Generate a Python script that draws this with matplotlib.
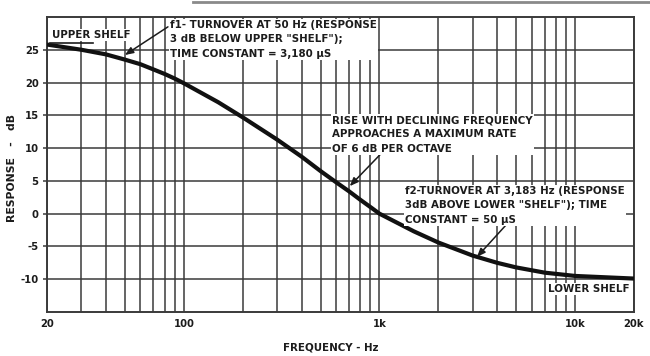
import matplotlib
matplotlib.use("Agg")
import matplotlib.pyplot as plt
from matplotlib.lines import Line2D

# Data
freq = [20, 30, 40, 50, 60, 70, 80, 90, 100, 150, 200, 300, 400, 500, 600, 700, 800, 900,
        1000, 1500, 2000, 3000, 4000, 5000, 7000, 10000, 20000]
resp = [25.8, 25.0, 24.3, 23.5, 22.8, 22.0, 21.3, 20.6, 19.9, 17.0, 14.7, 11.3, 8.7, 6.5, 4.8, 3.4,
        2.1, 1.0, 0.0, -2.7, -4.4, -6.4, -7.5, -8.2, -9.0, -9.5, -9.9]

x_grid = [20, 30, 40, 50, 60, 70, 80, 90, 100, 200, 300, 400, 500, 600, 700, 800, 900,
          1000, 2000, 3000, 4000, 5000, 6000, 7000, 8000, 9000, 10000, 20000]
x_tick_vals = [20, 100, 1000, 10000, 20000]
x_tick_labels = ["20", "100", "1k", "10k", "20k"]
y_ticks = [-10, -5, 0, 5, 10, 15, 20, 25]

ink = "#1c1c1c"
grid_c = "#3a3a3a"
fs = 7.4
fw = "bold"
ls = 1.55

W, H = 650, 356
fig = plt.figure(figsize=(W / 100, H / 100), dpi=100)
fig.patch.set_facecolor("white")

def fx(px):
    return px / W

def fy(py):
    return 1 - py / H

ax = fig.add_axes([fx(47), fy(312), fx(634) - fx(47), fy(17) - fy(312)])
ax.set_xscale("log")
ax.set_xlim(20, 20000)
ax.set_ylim(-15, 30)

for xv in x_grid:
    ax.axvline(xv, color=grid_c, lw=1.1, zorder=1)
for yv in y_ticks:
    ax.axhline(yv, color=grid_c, lw=1.1, zorder=1)

ax.plot(freq, resp, color="#111111", lw=3.0, solid_capstyle="butt", solid_joinstyle="round", zorder=3)

ax.set_xticks(x_tick_vals)
ax.set_xticklabels(x_tick_labels, fontweight=fw)
ax.xaxis.set_minor_locator(matplotlib.ticker.NullLocator())
ax.set_yticks(y_ticks)
ax.set_yticklabels([str(v) for v in y_ticks], fontweight=fw)
ax.tick_params(axis="x", length=0, pad=5, labelsize=7.2, labelcolor=ink)
ax.tick_params(axis="y", length=3, width=1.1, color=grid_c, pad=3, labelsize=7.2, labelcolor=ink)
for sp in ax.spines.values():
    sp.set_color(grid_c)
    sp.set_linewidth(1.4)

fig.text(fx(331), fy(347), "FREQUENCY - Hz", ha="center", va="center", fontsize=fs, color=ink, fontweight=fw)
fig.text(fx(12), fy(168), "RESPONSE   -   dB", ha="center", va="center", rotation=90, fontsize=7.8, color=ink, fontweight=fw)

box = dict(facecolor="white", edgecolor="none", pad=1.0)

fig.text(fx(52), fy(35), "UPPER SHELF", ha="left", va="center", fontsize=fs, color=ink, fontweight=fw, bbox=box, zorder=5)
fig.add_artist(Line2D([fx(50), fx(93)], [fy(43), fy(43)], color=ink, lw=1.2))

fig.text(fx(548), fy(289), "LOWER SHELF", ha="left", va="center", fontsize=fs, color=ink, fontweight=fw, bbox=box, zorder=5)

fig.text(fx(170), fy(20),
         "f1- TURNOVER AT 50 Hz (RESPONSE\n3 dB BELOW UPPER \"SHELF\");\nTIME CONSTANT = 3,180 \u00b5S",
         ha="left", va="top", fontsize=fs, color=ink, fontweight=fw, linespacing=ls, bbox=box, zorder=5)

fig.text(fx(332), fy(115),
         "RISE WITH DECLINING FREQUENCY\nAPPROACHES A MAXIMUM RATE\nOF 6 dB PER OCTAVE",
         ha="left", va="top", fontsize=fs, color=ink, fontweight=fw, linespacing=ls, bbox=box, zorder=5)

fig.text(fx(405), fy(186),
         "f2-TURNOVER AT 3,183 Hz (RESPONSE\n3dB ABOVE LOWER \"SHELF\"); TIME\nCONSTANT = 50 \u00b5S",
         ha="left", va="top", fontsize=fs, color=ink, fontweight=fw, linespacing=ls, bbox=box, zorder=5)

arrow = dict(arrowstyle="-|>,head_length=0.5,head_width=0.2", color=ink, lw=1.1, shrinkA=0, shrinkB=0)
ax.annotate("", xy=(50, 24.2), xytext=(83, 28.5), arrowprops=arrow, zorder=6)
ax.annotate("", xy=(705, 4.2), xytext=(1030, 9.3), arrowprops=arrow, zorder=6)
ax.annotate("", xy=(3150, -6.6), xytext=(4540, -1.4), arrowprops=arrow, zorder=6)

# scan border artifact at the top
fig.add_artist(Line2D([fx(193), fx(650)], [fy(1.5), fy(1.5)], color="#8a8a8a", lw=2.0))

fig.savefig("out.png", dpi=100, facecolor="white")
